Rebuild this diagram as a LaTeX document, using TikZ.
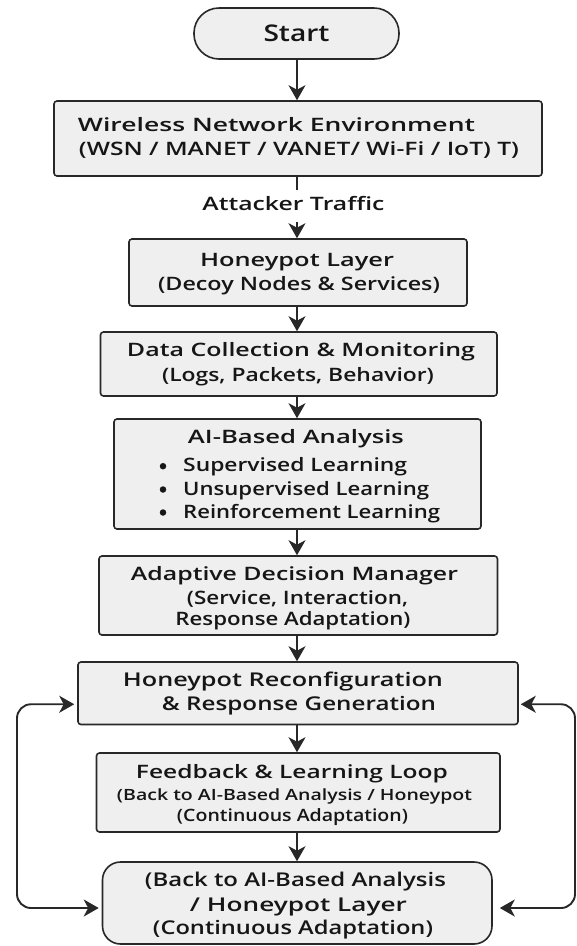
\documentclass[tikz,border=0pt]{standalone}
\usepackage{fontspec}
\usepackage{graphicx}
\setmainfont{Open Sans}[BoldFont={Open Sans Semibold}]
\usetikzlibrary{arrows.meta}

% set a line of text to an exact width, keeping its height
\newcommand\fw[2]{\resizebox{#1pt}{\height}{#2}}

\definecolor{boxfill}{RGB}{239,239,239}
\definecolor{edge}{RGB}{40,40,40}
\definecolor{ink}{RGB}{22,22,22}

\tikzset{
  box/.style={draw=edge, fill=boxfill, line width=1.6pt, rounded corners=3pt,
              inner sep=0pt},
  txt/.style={anchor=base, inner sep=0pt, text=ink, font=\fontsize{18.5}{22}\selectfont\bfseries},
  bigtxt/.style={txt, font=\fontsize{19}{22}\selectfont\bfseries},
  smalltxt/.style={txt, font=\fontsize{15.5}{18}\selectfont\bfseries},
  midtxt/.style={txt, font=\fontsize{17}{20}\selectfont\bfseries},
  dot/.style={circle, fill=ink, inner sep=0pt, minimum size=6.5pt},
  tip/.tip={Stealth[length=15pt, width=17pt, inset=4.5pt]},
  flow/.style={draw=edge, line width=1.9pt, -tip},
  plain/.style={draw=edge, line width=1.9pt},
  loop/.style={draw=edge, line width=1.9pt, rounded corners=14pt, tip-tip}
}

\begin{document}
\begin{tikzpicture}[x=1pt, y=-1pt]
\useasboundingbox (0,0) rectangle (577,946);

% ---- boxes ----
\node[box, rounded corners=25pt, minimum width=205pt, minimum height=51pt,
      font=\fontsize{23}{26}\selectfont\bfseries, text=ink] (start) at (296.5,33.5) {\fw{66}{Start}};
\node[box, minimum width=488pt, minimum height=75pt] (wne) at (298,138.5) {};
\node[inner sep=0pt, minimum height=32pt, txt, anchor=center, text height=13pt, text depth=4pt] (atk) at (293.5,206) {\fw{182}{Attacker Traffic}};
\node[box, minimum width=338pt, minimum height=67pt] (hp) at (298,272.5) {};
\node[box, minimum width=396.5pt, minimum height=64pt] (dc) at (298.75,364) {};
\node[box, minimum width=367pt, minimum height=110pt] (ai) at (297.5,474) {};
\node[box, minimum width=398.5pt, minimum height=79pt] (adm) at (298.25,595.5) {};
\node[box, minimum width=440pt, minimum height=62.5pt] (rc) at (298,693.25) {};
\node[box, minimum width=403.5pt, minimum height=79pt] (fb) at (298.25,792.5) {};
\node[box, rounded corners=18pt, minimum width=389.5pt, minimum height=82pt] (bk) at (297.25,903) {};

% ---- box texts ----
\node[txt] (wne1) at (276.5,131.7) {\fw{397}{Wireless Network Environment}};
\node[txt] (wne2) at (299,155.5) {\fw{440}{(WSN / MANET / VANET/ Wi-Fi / IoT) T)}};

\node[txt] (hp1) at (297,266.7) {\fw{194}{Honeypot Layer}};
\node[txt] (hp2) at (299,290.5) {\fw{282}{(Decoy Nodes \& Services)}};

\node[txt] (dc1) at (301,356.7) {\fw{348}{Data Collection \& Monitoring}};
\node[txt] (dc2) at (298,381.7) {\fw{272}{(Logs, Packets, Behavior)}};

\node[txt] (ai1) at (296,443.3) {\fw{216}{AI-Based Analysis}};
\node[txt, anchor=base west] (ai2) at (183,471.7) {\fw{224}{Supervised Learning}};
\node[txt, anchor=base west] (ai3) at (183,495) {\fw{246}{Unsupervised Learning}};
\node[txt, anchor=base west] (ai4) at (183,518) {\fw{257}{Reinforcement Learning}};
\node[dot] (b1) at (163,466.2) {};
\node[dot] (b2) at (163,489.5) {};
\node[dot] (b3) at (163,512.5) {};

\node[txt] (adm1) at (294.5,580) {\fw{327}{Adaptive Decision Manager}};
\node[txt] (adm2) at (297.5,604) {\fw{221}{(Service, Interaction,}};
\node[txt] (adm3) at (293,625) {\fw{235}{Response Adaptation)}};

\node[bigtxt] (rc1) at (283,686) {\fw{320}{Honeypot Reconfiguration}};
\node[bigtxt] (rc2) at (299,710.7) {\fw{274}{\& Response Generation}};

\node[txt] (fb1) at (292,778.5) {\fw{312}{Feedback \& Learning Loop}};
\node[smalltxt] (fb2) at (294.5,800.5) {\fw{355}{(Back to AI-Based Analysis / Honeypot}};
\node[midtxt] (fb3) at (292.5,821.7) {\fw{231}{(Continuous Adaptation)}};

\node[bigtxt] (bk1) at (295.5,886.7) {\fw{301}{(Back to AI-Based Analysis}};
\node[bigtxt] (bk2) at (298.5,911) {\fw{217}{/ Honeypot Layer}};
\node[bigtxt] (bk3) at (293,934.3) {\fw{280}{(Continuous Adaptation)}};

% ---- main flow ----
\coordinate (axis) at (297,0);
\draw[flow] (axis |- start.south) -- (axis |- wne.north);
\draw[plain] (axis |- wne.south) -- (axis |- atk.north);
\draw[flow] (axis |- atk.south) -- (axis |- hp.north);
\draw[flow] (axis |- hp.south) -- (axis |- dc.north);
\draw[flow] (axis |- dc.south) -- (axis |- ai.north);
\draw[flow] (axis |- ai.south) -- (axis |- adm.north);
\draw[flow] (axis |- adm.south) -- (axis |- rc.north);
\draw[flow] (axis |- rc.south) -- (axis |- fb.north);
\draw[flow] (axis |- fb.south) -- (axis |- bk.north);

% ---- feedback loops on both sides ----
\coordinate (lx) at (17,0);
\coordinate (rx) at (575,0);
\coordinate (rcW) at ([yshift=-11pt]rc.west);
\coordinate (rcE) at ([yshift=-11pt]rc.east);
\coordinate (bkW) at ([yshift=-5pt]bk.west);
\coordinate (bkE) at ([yshift=-5pt]bk.east);
\draw[loop, shorten <=3pt, shorten >=3pt]
  (rcW) -- (lx |- rcW) -- (lx |- bkW) -- (bkW);
\draw[loop, shorten <=2pt, shorten >=7pt]
  (rcE) -- (rx |- rcE) -- (rx |- bkE) -- (bkE);
\end{tikzpicture}
\end{document}
